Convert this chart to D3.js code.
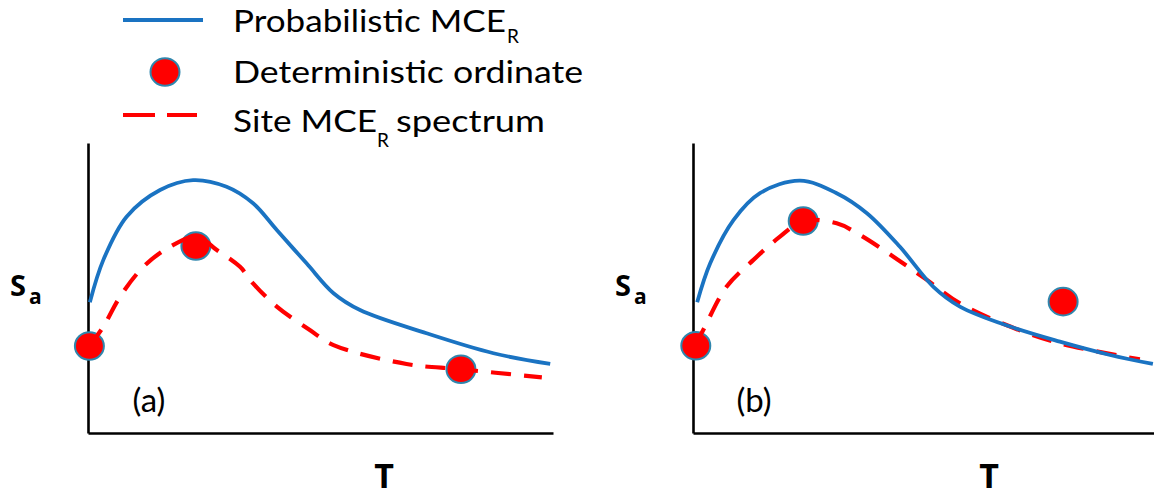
<!DOCTYPE html>
<html><head><meta charset="utf-8">
<script src="https://cdn.jsdelivr.net/npm/d3@7"></script>
<style>body{margin:0;background:#fff}svg{display:block}</style>
</head><body>
<svg id="c" width="1154" height="497"></svg>
<script>
// ---------- data (arbitrary units: T 0..10, Sa 0..10) ----------
const panelLabels = ["(a)", "(b)"];
const legendLabels = ["Probabilistic MCE", "Deterministic ordinate", "Site MCE"];
const legendSub = "R";
const legendTail = " spectrum";
const axisLabelX = "T";
const axisLabelY = "S";
const axisLabelYSub = "a";

// Panel (a)
const probTA  = [0.04, 0.33, 0.83, 1.55, 2.26, 2.98, 3.55, 4.06, 4.70, 5.28, 5.85, 7.28, 8.72, 9.94];
const probSaA = [4.51, 5.97, 7.46, 8.38, 8.72, 8.49, 7.92, 7.00, 5.85, 4.82, 4.24, 3.44, 2.75, 2.38];
const siteTA  = [0.03, 0.33, 0.69, 1.19, 1.76, 2.34, 2.77, 3.27, 3.55, 4.06, 4.77, 5.28, 6.85, 8.00, 9.76];
const siteSaA = [3.00, 3.67, 4.70, 5.73, 6.42, 6.77, 6.31, 5.73, 5.16, 4.36, 3.55, 3.03, 2.38, 2.20, 1.92];
const detTA   = [0.03, 2.32, 8.02];
const detSaA  = [3.00, 6.45, 2.20];

// Panel (b)
const probTB  = [0.09, 0.37, 0.87, 1.44, 2.30, 3.09, 3.74, 4.45, 5.17, 5.74, 6.82, 7.89, 8.97, 9.89];
const probSaB = [4.51, 5.85, 7.34, 8.27, 8.70, 8.27, 7.58, 6.42, 5.04, 4.36, 3.67, 3.15, 2.69, 2.38];
const siteTB  = [0.04, 0.22, 0.72, 1.30, 1.87, 2.37, 3.09, 3.59, 4.31, 5.03, 5.74, 6.82, 7.89, 9.61];
const siteSaB = [3.01, 3.55, 5.04, 5.97, 6.77, 7.31, 7.23, 6.83, 6.08, 5.28, 4.47, 3.67, 3.09, 2.54];
const detTB   = [0.06, 2.37, 7.96];
const detSaB  = [3.01, 7.31, 4.53];

// ---------- styles ----------
const BLUE = "#1a73c2", RED = "#ff0000", DOT_STROKE = "#2f86ad";
const FONT = "Lato, 'Open Sans', sans-serif";
const BFONT = "'Open Sans', Lato, sans-serif";

const svg = d3.select("#c");

const panels = [
  {x0: 88,  label: panelLabels[0], prob: [probTA, probSaA], site: [siteTA, siteSaA], det: [detTA, detSaA]},
  {x0: 693, label: panelLabels[1], prob: [probTB, probSaB], site: [siteTB, siteSaB], det: [detTB, detSaB]}
];

const zip = (a, b) => a.map((v, i) => [v, b[i]]);

panels.forEach(p => {
  const x = d3.scaleLinear().domain([0, 10]).range([p.x0, p.x0 + 465]);
  const y = d3.scaleLinear().domain([0, 10]).range([433, 143]);
  const g = svg.append("g");

  // axes (no ticks)
  g.append("g").attr("transform", "translate(0,433)")
    .call(d3.axisBottom(x).tickValues([]).tickSizeOuter(0));
  g.append("g").attr("transform", `translate(${p.x0},0)`)
    .call(d3.axisLeft(y).tickValues([]).tickSizeOuter(0));
  g.selectAll(".domain").attr("stroke", "#000").attr("stroke-width", 2.6);

  const line = d3.line().x(d => x(d[0])).y(d => y(d[1])).curve(d3.curveCatmullRom.alpha(0.5));

  // deterministic dots
  g.selectAll("ellipse.det").data(zip(p.det[0], p.det[1])).join("ellipse")
    .attr("class", "det")
    .attr("cx", d => x(d[0])).attr("cy", d => y(d[1]))
    .attr("rx", 14.5).attr("ry", 13.8)
    .attr("fill", RED).attr("stroke", DOT_STROKE).attr("stroke-width", 2);

  // site spectrum (dashed)
  g.append("path").datum(zip(p.site[0], p.site[1]))
    .attr("d", line).attr("fill", "none")
    .attr("stroke", RED).attr("stroke-width", 4.2).attr("stroke-dasharray", "20,13");

  // probabilistic
  g.append("path").datum(zip(p.prob[0], p.prob[1]))
    .attr("d", line).attr("fill", "none")
    .attr("stroke", BLUE).attr("stroke-width", 3.8);

  // panel label
  g.append("text").attr("x", p.x0 + 61).attr("y", 412)
    .attr("text-anchor", "middle").attr("font-family", FONT).attr("font-size", 33)
    .attr("fill", "#000").text(p.label);

  // axis labels
  g.append("text").attr("x", p.x0 + 296).attr("y", 488)
    .attr("text-anchor", "middle").attr("font-family", BFONT).attr("font-weight", "bold")
    .attr("font-size", 34).attr("fill", "#000").text(axisLabelX);
  g.append("text").attr("x", p.x0 - 78).attr("y", 296)
    .attr("font-family", BFONT).attr("font-weight", "bold")
    .attr("font-size", 29).attr("fill", "#000").text(axisLabelY);
  g.append("text").attr("x", p.x0 - 59).attr("y", 304)
    .attr("font-family", BFONT).attr("font-weight", "bold")
    .attr("font-size", 21).attr("fill", "#000").text(axisLabelYSub);
});

// ---------- legend ----------
const lg = svg.append("g");
lg.append("line").attr("x1", 123).attr("x2", 203).attr("y1", 20).attr("y2", 20)
  .attr("stroke", BLUE).attr("stroke-width", 3.8);
lg.append("ellipse").attr("cx", 165).attr("cy", 72).attr("rx", 14.5).attr("ry", 13.8)
  .attr("fill", RED).attr("stroke", DOT_STROKE).attr("stroke-width", 2);
lg.append("line").attr("x1", 123).attr("x2", 197).attr("y1", 115).attr("y2", 115)
  .attr("stroke", RED).attr("stroke-width", 4.2).attr("stroke-dasharray", "32,12");

const tx = (x, y, s, size, len) => {
  const t = lg.append("text").attr("x", x).attr("y", y)
    .attr("font-family", FONT).attr("font-size", size).attr("fill", "#000").text(s);
  if (len) t.attr("textLength", len).attr("lengthAdjust", "spacingAndGlyphs");
  return t;
};
tx(233, 32, legendLabels[0], 31, 273);
tx(507, 42.5, legendSub, 19);
tx(233, 83, legendLabels[1], 31, 350);
tx(233, 132, legendLabels[2], 31, 144);
tx(377, 146.5, legendSub, 19);
tx(396, 132, legendTail, 31, 149);
</script>
</body></html>
